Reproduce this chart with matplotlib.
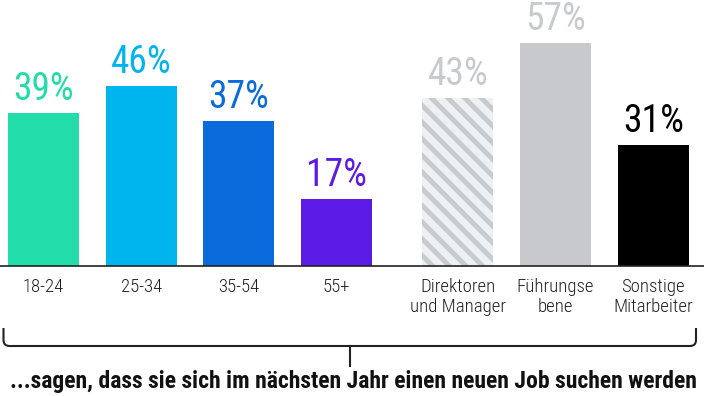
import matplotlib.pyplot as plt
from matplotlib.path import Path
from matplotlib.patches import PathPatch
import numpy as np

plt.rcParams['font.family'] = ['Roboto Condensed', 'Liberation Sans Narrow', 'Roboto', 'DejaVu Sans']
plt.rcParams['font.stretch'] = 'condensed'
plt.rcParams['hatch.linewidth'] = 3.5

# Daten
labels = ["18-24", "25-34", "35-54", "55+", "Direktoren\nund Manager", "Führungse\nbene", "Sonstige\nMitarbeiter"]
werte = [39, 46, 37, 17, 43, 57, 31]
pos = [0, 1, 2, 3, 4.24, 5.24, 6.24]
farben = ["#22dca9", "#00b4ee", "#0a6bdc", "#5c1ae6", "#eef1f3", "#c7c9cc", "#000000"]
textfarben = ["#22dca9", "#00b4ee", "#0a6bdc", "#5c1ae6", "#c8cbce", "#c8cbce", "#000000"]
fusszeile = "...sagen, dass sie sich im nächsten Jahr einen neuen Job suchen werden"

W, H = 704, 396
fig = plt.figure(figsize=(W/100, H/100), dpi=100)
ax = fig.add_axes([0, 0, 1, 1])
ax.set_xlim(-0.445, 6.76)
ax.set_ylim(-130/3.915, (H-130)/3.915)
ax.axis("off")

for i in range(len(werte)):
  if i == 4:
    ax.bar(pos[i], werte[i], width=0.727, color=farben[i], edgecolor="#c8cbce", hatch="\\\\", linewidth=0)
  else:
    ax.bar(pos[i], werte[i], width=0.727, color=farben[i], linewidth=0)
  ax.annotate("%d%%" % werte[i], (pos[i], werte[i]), xytext=(0, 9.4), textcoords="offset points",
              ha="center", va="baseline", fontsize=27, color=textfarben[i])
  ax.annotate(labels[i], (pos[i], 0), xytext=(0, -9), textcoords="offset points",
              ha="center", va="top", fontsize=13.5, fontweight="light", color="#222222",
              linespacing=1.12, multialignment="center")

# Grundlinie
ax.axhline(0, color="#222222", lw=1.2)

# Klammer
def fx(x): return x / W
def fy(y): return (H - y) / H
r = 6
verts = [(fx(3.5), fy(328)), (fx(3.5), fy(346-r)), (fx(3.5), fy(346)), (fx(3.5+r), fy(346)),
         (fx(696-r), fy(346)), (fx(696), fy(346)), (fx(696), fy(346-r)), (fx(696), fy(328))]
codes = [Path.MOVETO, Path.LINETO, Path.CURVE3, Path.CURVE3, Path.LINETO, Path.CURVE3, Path.CURVE3, Path.LINETO]
fig.add_artist(PathPatch(Path(verts, codes), transform=fig.transFigure, fill=False, lw=1.5, edgecolor="#222222"))
fig.add_artist(plt.Line2D([fx(350), fx(350)], [fy(346), fy(366)], transform=fig.transFigure, lw=1.5, color="#222222"))

t = fig.text(fx(353), fy(388), fusszeile, ha="center", va="baseline", fontsize=17, fontweight="bold", color="#111111")
# Schriftgroesse an Breite anpassen (686 px)
fig.canvas.draw()
b = t.get_window_extent()
t.set_fontsize(17 * 686 / b.width)

fig.savefig("out.png", dpi=100)
